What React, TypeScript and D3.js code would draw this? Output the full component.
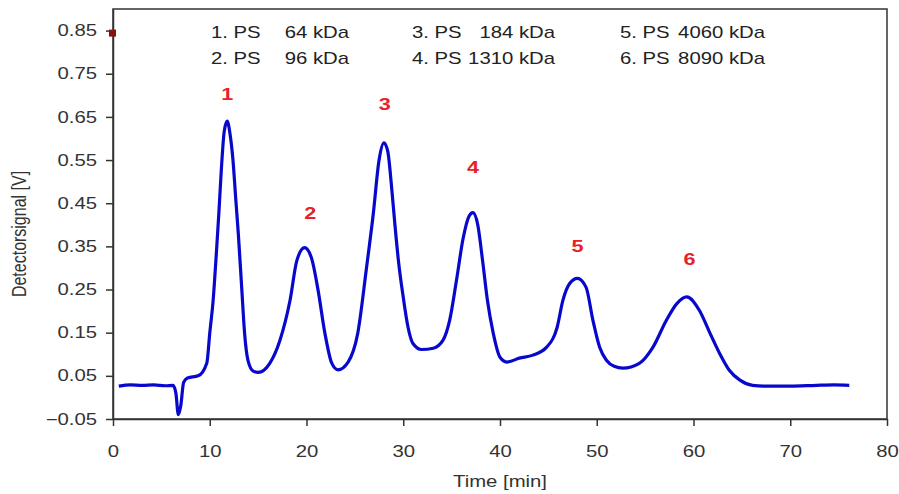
import * as d3 from 'd3';
import { useEffect, useRef } from 'react';

// chromatogram trace
const times = [0.6, 1.8, 3.0, 4.2, 5.4, 6.2, 6.5, 6.75, 7.0, 7.3, 7.7, 8.8, 9.7, 10.0, 10.35, 10.7, 10.95, 11.15, 11.5, 11.8, 12.1, 12.4, 12.7, 12.95, 13.3, 13.6, 13.95, 14.5, 15.0, 16.2, 17.25, 18.3, 19.0, 19.8, 20.5, 21.2, 21.9, 22.6, 23.25, 24.3, 25.3, 26.2, 26.9, 27.5, 28.0, 28.4, 28.8, 29.1, 29.5, 30.0, 30.5, 31.0, 31.9, 33.1, 34.1, 34.8, 35.5, 36.2, 36.8, 37.2, 37.7, 38.2, 38.7, 39.3, 40.0, 40.7, 42.0, 43.4, 44.8, 45.9, 46.5, 47.2, 48.0, 48.9, 49.6, 50.3, 51.0, 51.8, 52.7, 54.4, 55.8, 57.2, 58.3, 59.3, 60.6, 61.7, 62.7, 63.7, 64.8, 66.1, 67.5, 70.0, 72.7, 74.5, 76.1];
const signal = [0.026, 0.029, 0.028, 0.029, 0.027, 0.028, 0.010, -0.040, -0.020, 0.035, 0.045, 0.050, 0.080, 0.149, 0.225, 0.340, 0.430, 0.510, 0.617, 0.640, 0.610, 0.550, 0.456, 0.380, 0.255, 0.149, 0.086, 0.061, 0.058, 0.079, 0.132, 0.225, 0.317, 0.347, 0.324, 0.248, 0.149, 0.080, 0.064, 0.082, 0.149, 0.300, 0.425, 0.550, 0.590, 0.570, 0.486, 0.410, 0.317, 0.232, 0.162, 0.125, 0.111, 0.114, 0.132, 0.179, 0.271, 0.370, 0.420, 0.428, 0.400, 0.317, 0.225, 0.149, 0.093, 0.082, 0.091, 0.098, 0.116, 0.162, 0.225, 0.264, 0.276, 0.255, 0.179, 0.116, 0.086, 0.072, 0.068, 0.079, 0.116, 0.179, 0.218, 0.233, 0.202, 0.149, 0.102, 0.063, 0.040, 0.028, 0.026, 0.026, 0.028, 0.029, 0.028];

const peakLabels = ['1', '2', '3', '4', '5', '6'];
const peakLabelTimes = [11.8, 20.4, 28.1, 37.2, 48.0, 59.6];
const peakLabelValues = [0.690, 0.414, 0.666, 0.520, 0.337, 0.306];

const legendNames = ['1. PS', '2. PS', '3. PS', '4. PS', '5. PS', '6. PS'];
const legendMasses = ['64 kDa', '96 kDa', '184 kDa', '1310 kDa', '4060 kDa', '8090 kDa'];

const xTicks = [0, 10, 20, 30, 40, 50, 60, 70, 80];
const yTicks = [-0.05, 0.05, 0.15, 0.25, 0.35, 0.45, 0.55, 0.65, 0.75, 0.85];

const marker = { t: 0, v: 0.843 };

export default function App() {
  const ref = useRef(null);

  useEffect(() => {
    const W = 899, H = 494;
    const margin = { top: 9, right: 12, bottom: 75, left: 113 };
    const width = W - margin.left - margin.right;
    const height = H - margin.top - margin.bottom;
    const font = 'Liberation Sans, Arial, sans-serif';
    const sx = 1.27; // the picture's text is stretched sideways

    const x = d3.scaleLinear().domain([0, 80]).range([0, width]);
    const y = d3.scaleLinear().domain([-0.05, 0.9]).range([height, 0]);

    const svg = d3.select(ref.current).html('')
      .append('svg')
      .attr('width', W)
      .attr('height', H)
      .style('position', 'absolute')
      .style('left', '0px')
      .style('top', '0px')
      .style('background', '#fff');

    const g = svg.append('g').attr('transform', `translate(${margin.left},${margin.top})`);

    // frame
    g.append('rect')
      .attr('width', width).attr('height', height)
      .attr('fill', 'none').attr('stroke', '#333').attr('stroke-width', 1.5);

    const xAxis = g.append('g')
      .attr('transform', `translate(0,${height})`)
      .call(d3.axisBottom(x).tickValues(xTicks).tickFormat(d3.format('d')).tickSize(7).tickSizeOuter(0).tickPadding(20));
    const yAxis = g.append('g')
      .call(d3.axisLeft(y).tickValues(yTicks).tickFormat(d3.format('.2f')).tickSize(7).tickSizeOuter(0).tickPadding(9));

    [xAxis, yAxis].forEach(a => {
      a.select('.domain').attr('stroke', '#333').attr('stroke-width', 1.5);
      a.selectAll('.tick line').attr('stroke', '#333').attr('stroke-width', 1.5);
      a.selectAll('.tick text').attr('fill', '#333').style('font-family', font).style('font-size', '16px');
    });
    // stretch the tick labels sideways around their anchor
    xAxis.selectAll('.tick text').attr('transform', `scale(${sx},1)`);
    yAxis.selectAll('.tick text').each(function () {
      const t = d3.select(this);
      const tx = +t.attr('x');
      t.attr('x', tx / sx).attr('transform', `scale(${sx},1)`);
    });

    // axis titles
    svg.append('text')
      .attr('transform', `translate(${margin.left + width / 2},487) scale(${sx},1)`)
      .attr('text-anchor', 'middle')
      .style('font-family', font).style('font-size', '16px').attr('fill', '#333')
      .text('Time [min]');
    svg.append('text')
      .attr('transform', `translate(26,234) rotate(-90) scale(1,${sx})`)
      .attr('text-anchor', 'middle')
      .style('font-family', font).style('font-size', '16px').attr('fill', '#333')
      .text('Detectorsignal [V]');

    // trace
    const data = times.map((t, i) => ({ t, v: signal[i] }));
    const line = d3.line()
      .x(d => x(d.t))
      .y(d => y(d.v))
      .curve(d3.curveMonotoneX);
    g.append('path')
      .datum(data)
      .attr('d', line)
      .attr('fill', 'none')
      .attr('stroke', '#0808cc')
      .attr('stroke-width', 3.2)
      .attr('stroke-linejoin', 'round');

    // peak numbers
    g.selectAll('.peak')
      .data(peakLabels)
      .enter()
      .append('text')
      .attr('transform', (d, i) => `translate(${x(peakLabelTimes[i])},${y(peakLabelValues[i])}) scale(${sx},1)`)
      .attr('text-anchor', 'middle')
      .style('font-family', font).style('font-size', '17px').style('font-weight', 'bold')
      .attr('fill', '#e8202a')
      .text(d => d);

    // legend, three columns of two rows
    const colStart = [211, 412, 620];
    const colEnd = [349, 555, 765];
    legendNames.forEach((name, i) => {
      const col = Math.floor(i / 2), row = i % 2;
      const yy = 38 + row * 26;
      svg.append('text')
        .attr('transform', `translate(${colStart[col]},${yy}) scale(${sx},1)`)
        .style('font-family', font).style('font-size', '16px').attr('fill', '#222')
        .text(name);
      svg.append('text')
        .attr('transform', `translate(${colEnd[col]},${yy}) scale(${sx},1)`)
        .attr('text-anchor', 'end')
        .style('font-family', font).style('font-size', '16px').attr('fill', '#222')
        .text(legendMasses[i]);
    });

    // marker on the y axis
    g.append('rect')
      .attr('x', x(marker.t) - 4).attr('y', y(marker.v) - 4)
      .attr('width', 7).attr('height', 7)
      .attr('fill', '#8b1010');
  }, []);

  return <div ref={ref}></div>;
}
